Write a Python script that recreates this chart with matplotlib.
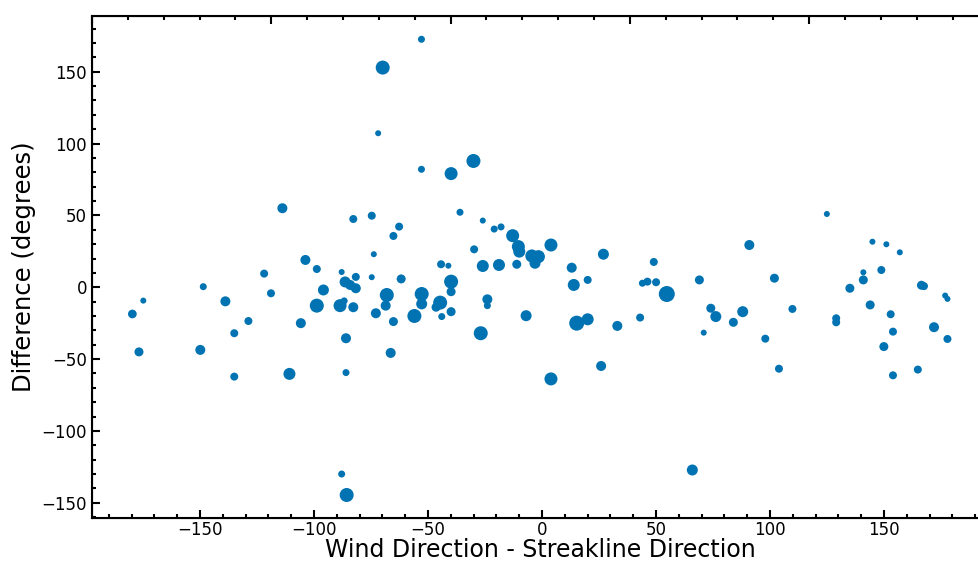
import matplotlib
matplotlib.use("Agg")
import matplotlib.pyplot as plt
from matplotlib.ticker import MultipleLocator, AutoMinorLocator

# wind direction minus streakline direction (deg)
wind_minus_streak = [
    -179.7, -176.8, -174.9, -149.9, -148.6, -138.9, -135.0, -135.0, -128.8, -121.9,
    -118.9, -113.9, -110.8, -105.8, -103.8, -98.8, -98.8, -95.9, -88.6, -87.9,
    -87.9, -86.8, -86.4, -86.0, -86.0, -85.7, -84.2, -82.8, -82.8, -81.7,
    -81.7, -74.7, -74.7, -73.8, -72.9, -71.9, -69.9, -68.1, -68.6, -66.4,
    -65.2, -65.2, -62.7, -61.8, -56.0, -52.9, -52.9, -52.8, -52.8, -46.5,
    -44.7, -44.3, -44.0, -41.1, -39.9, -39.9, -39.9, -39.9, -36.0, -30.1,
    -29.8, -26.9, -26.0, -26.0, -24.0, -24.0, -21.0, -18.9, -18.0, -12.9,
    -11.1, -10.4, -10.0, -7.0, -4.5, -3.1, -1.6, 3.9, 3.9, 13.0,
    13.9, 15.2, 20.0, 20.0, 25.9, 26.9, 33.0, 43.0, 44.0, 46.2,
    49.0, 50.0, 54.7, 65.9, 69.0, 70.9, 74.0, 76.2, 83.9, 88.0,
    90.9, 97.9, 101.9, 103.9, 109.8, 124.9, 129.0, 129.0, 135.0, 140.9,
    140.9, 143.9, 144.9, 148.8, 149.9, 151.0, 152.9, 153.9, 153.9, 156.9,
    164.8, 166.4, 167.5, 171.9, 176.8, 177.8, 177.8,
]

# difference (degrees)
difference = [
    -18.6, -45.0, -9.3, -43.6, 0.4, -9.8, -32.0, -62.2, -23.5, 9.5,
    -4.2, 55.0, -60.3, -25.0, 19.0, 12.7, -12.8, -1.9, -12.8, 10.6,
    -130.0, -9.5, 3.7, -35.5, -59.4, -144.6, 1.6, 47.5, -13.9, 7.2,
    -0.7, 49.8, 7.0, 23.0, -18.1, 107.2, 152.9, -5.4, -12.8, -45.7,
    35.7, -23.9, 42.2, 5.8, -20.0, 172.6, 82.1, -4.7, -11.6, -13.9,
    -10.7, 16.0, -20.4, 15.0, 79.1, 3.9, -3.1, -17.0, 52.2, 87.9,
    26.4, -32.0, 46.4, 14.8, -8.4, -12.8, 40.5, 15.5, 42.0, 35.9,
    16.0, 28.3, 24.8, -19.8, 21.8, 16.7, 21.3, 29.4, -63.8, 13.6,
    1.6, -25.0, 5.1, -22.3, -54.8, 23.0, -26.9, -21.1, 2.8, 3.9,
    17.6, 3.5, -4.7, -127.2, 5.1, -31.6, -14.6, -20.4, -24.4, -17.0,
    29.4, -35.8, 6.3, -56.7, -15.1, 51.0, -21.6, -24.4, -0.7, 10.4,
    5.1, -12.3, 31.7, 12.0, -41.3, 29.9, -18.8, -30.9, -61.3, 24.3,
    -57.3, 1.4, 0.8, -27.8, -5.8, -8.1, -36.0,
]

# relative weight shown as marker size
weight = [
    8.7, 9, 6, 10, 7, 10, 8, 8, 8, 8,
    8, 10, 12, 10, 10, 8, 14, 11, 13, 6,
    7, 7, 11, 10, 7, 14, 10, 8, 10, 8,
    10, 8, 6, 6, 10, 6, 14, 14, 10, 10,
    8, 9, 8, 9, 14, 7, 7, 14, 11, 9,
    14, 8, 7, 6, 13, 14, 9, 9, 7, 14,
    8, 14, 6, 12, 10, 7, 7, 12, 7, 13,
    9, 13, 12, 11, 13, 11, 13, 13, 13, 10,
    12, 15, 8, 12, 10, 11, 10, 8, 7, 8,
    8, 8, 16, 11, 9, 6, 9, 11, 9, 11,
    10, 8, 9, 8, 8, 6, 8, 8, 9, 6,
    9, 9, 6, 8, 9, 6, 8, 8, 8, 6,
    8, 9, 8, 10, 6, 6, 8,
]

sizes = [(w * 0.72) ** 2 for w in weight]

fig = plt.figure(figsize=(9.79, 5.61), dpi=100)
# right edge of the axes sits just outside the saved image, as in the original
ax = fig.add_axes([92 / 979, 1 - 517.7 / 561, 896.5 / 979, 501.7 / 561])

ax.scatter(wind_minus_streak, difference, s=sizes, color="#0173B2", linewidths=0)

ax.set_xlim(-197.4, 195.8)
ax.set_ylim(-160.4, 188.8)
ax.xaxis.set_major_locator(MultipleLocator(50))
ax.yaxis.set_major_locator(MultipleLocator(50))
ax.xaxis.set_minor_locator(AutoMinorLocator(5))
ax.yaxis.set_minor_locator(AutoMinorLocator(5))
ax.tick_params(which="both", direction="in", width=1.5, labelsize=12)
ax.tick_params(axis="x", pad=2.5)
ax.tick_params(which="major", length=6)
ax.tick_params(which="minor", length=3)
for sp in ax.spines.values():
    sp.set_linewidth(1.5)

ax.set_xlabel("Wind Direction - Streakline Direction", fontsize=17, labelpad=-0.5)
ax.set_ylabel("Difference (degrees)", fontsize=17.5)

# twin axis on top, left at its default 0..1 range
top = ax.twiny()
top.xaxis.set_minor_locator(AutoMinorLocator(5))
top.tick_params(which="both", direction="in", width=1.5, labeltop=False)
top.tick_params(which="major", length=6)
top.tick_params(which="minor", length=3)

fig.savefig("out.png", dpi=100)
